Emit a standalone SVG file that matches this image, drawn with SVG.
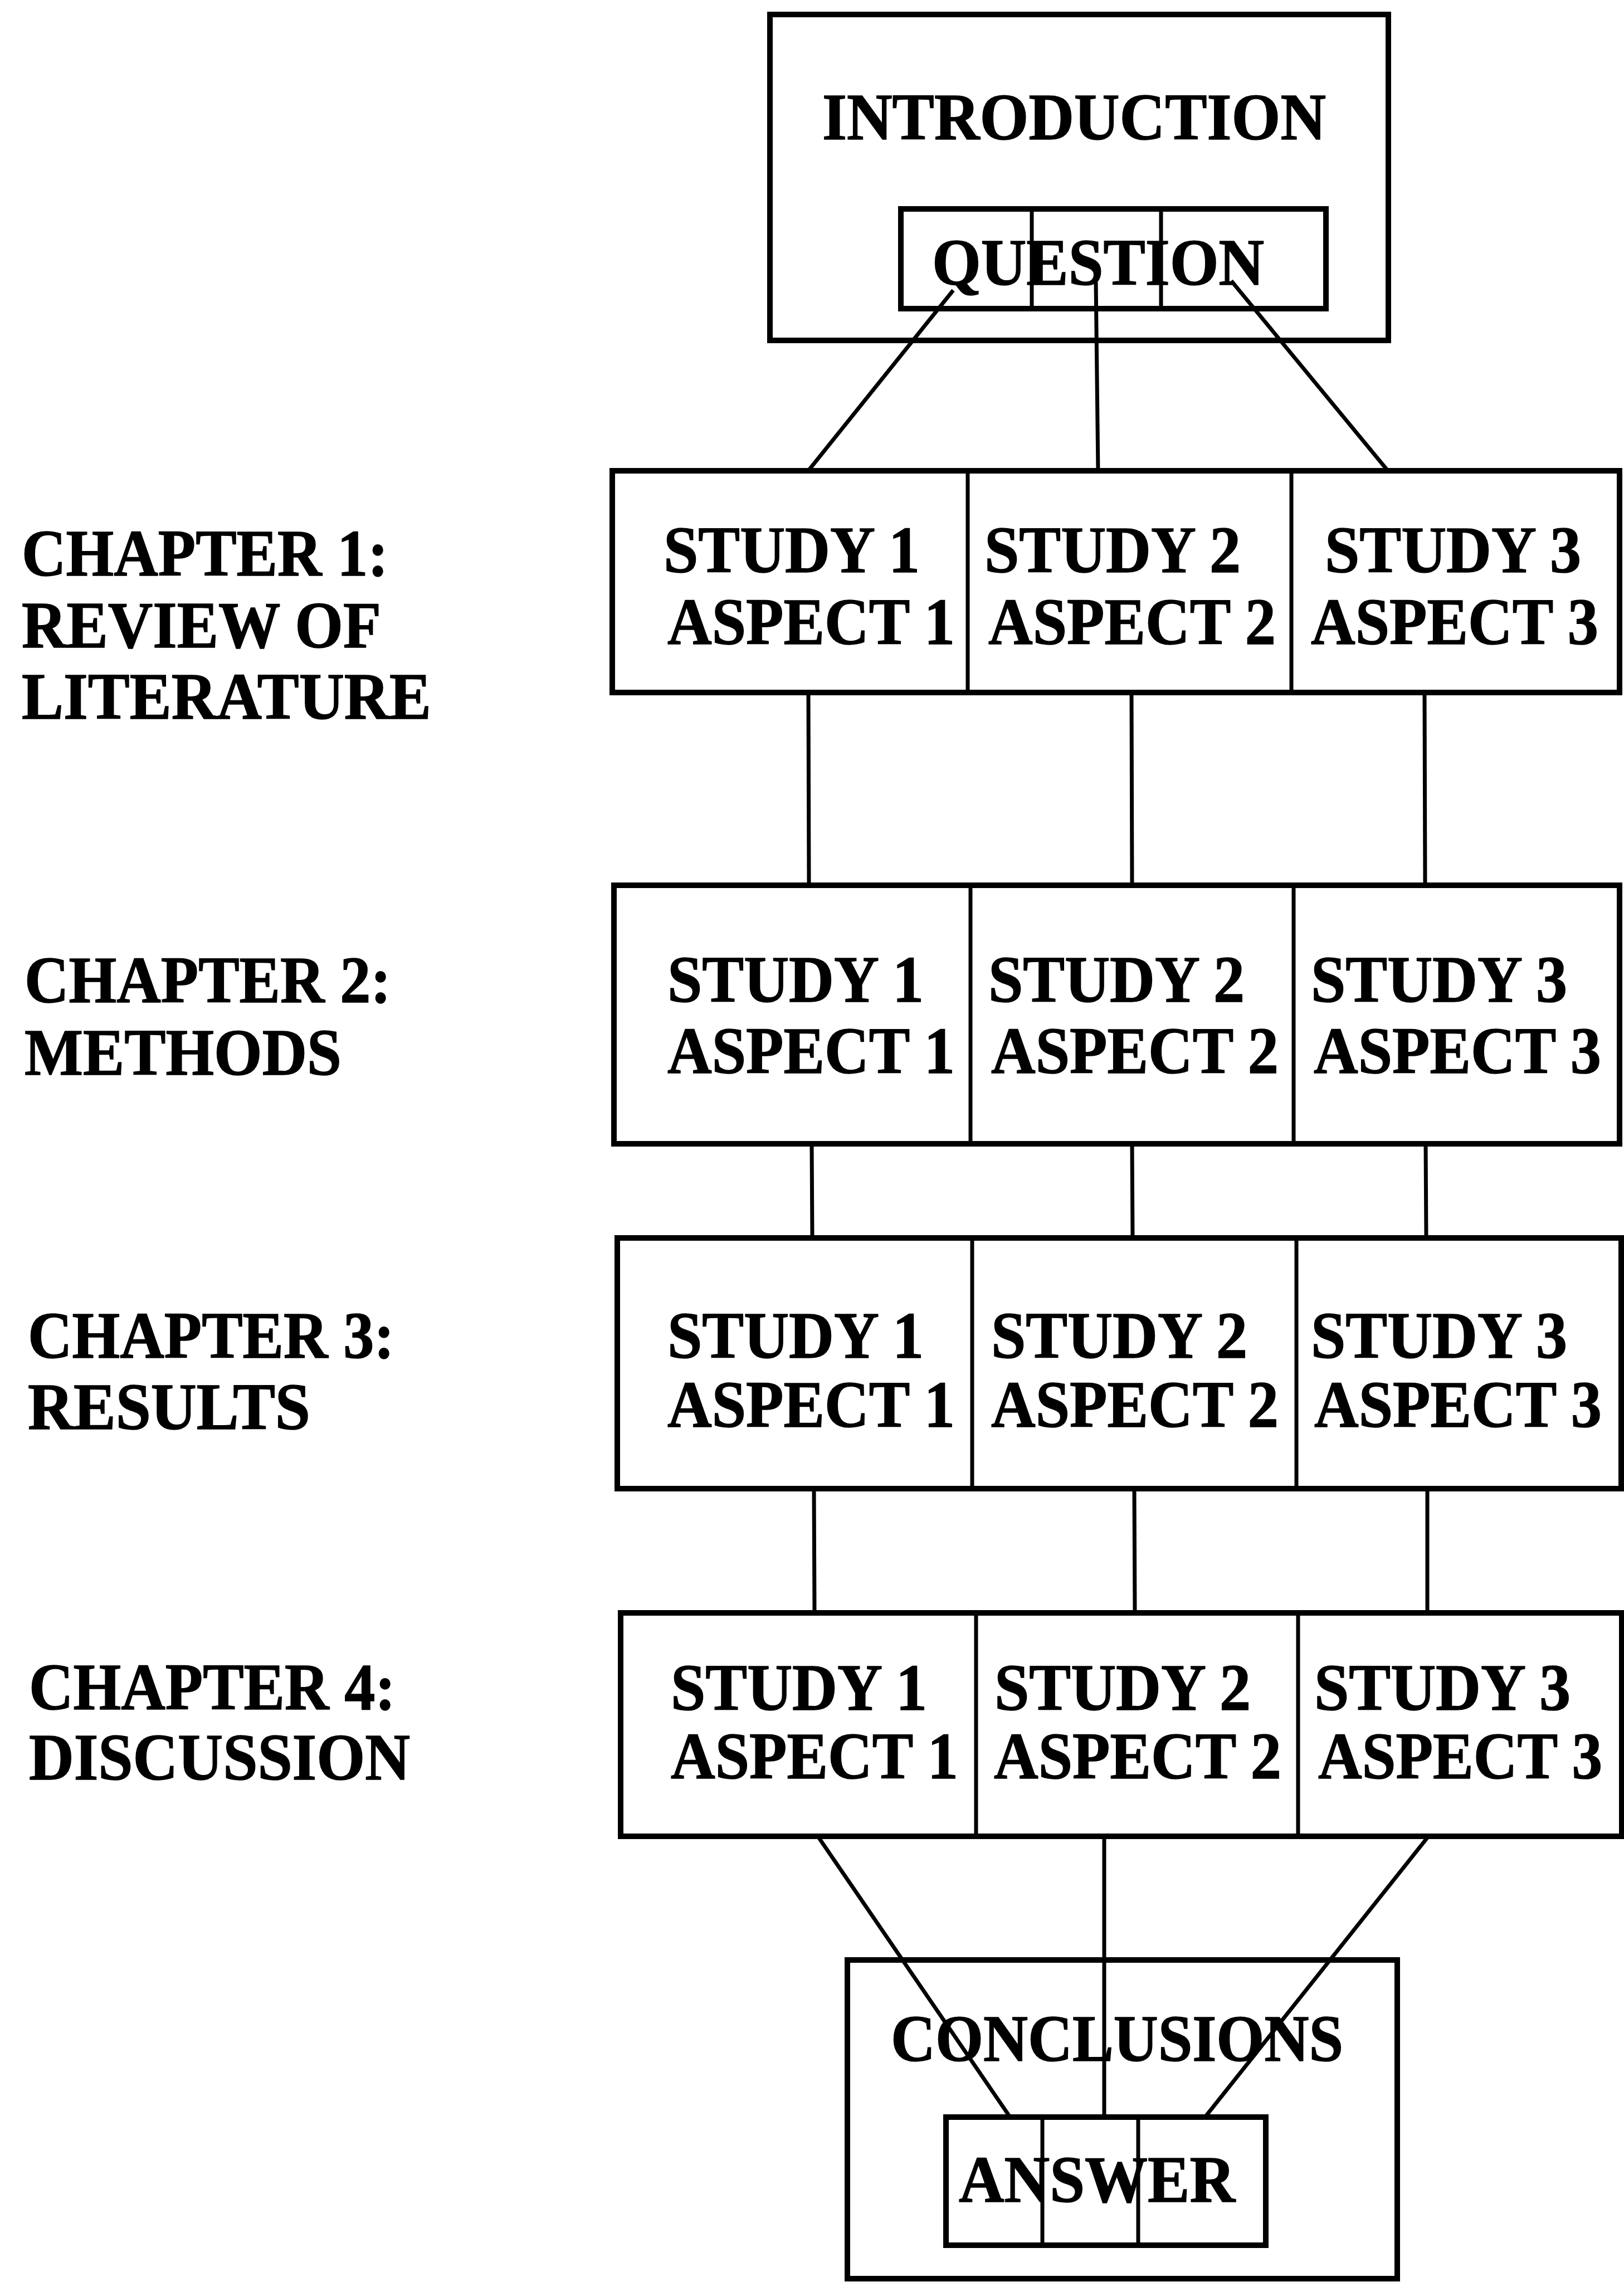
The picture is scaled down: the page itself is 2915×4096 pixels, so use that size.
<svg xmlns="http://www.w3.org/2000/svg" width="2915" height="4096" viewBox="0 0 2915 4096">
  <style>
    .box { fill: none; stroke: #000; stroke-width: 10; stroke-linejoin: miter; }
    .div { stroke: #000; stroke-width: 7; fill: none; }
    .link { stroke: #000; stroke-width: 7; fill: none; stroke-linecap: butt; }
    text { font-family: "Liberation Serif", "Times New Roman", serif; font-weight: bold; font-size: 118px; fill: #000; stroke: #000; stroke-width: 1.5; }
    .mid { text-anchor: middle; }
  </style>
  <rect width="2915" height="4096" fill="#fff"/>

  <!-- connectors -->
  <g id="connectors">
    <!-- question to review of literature -->
    <line class="link" x1="1711" y1="521" x2="1450" y2="846"/>
    <line class="link" x1="1967" y1="504" x2="1971" y2="846"/>
    <line class="link" x1="2210" y1="504" x2="2492" y2="846"/>
    <!-- review of literature to methods -->
    <line class="link" x1="1451" y1="1243" x2="1452" y2="1589"/>
    <line class="link" x1="2031" y1="1243" x2="2032" y2="1589"/>
    <line class="link" x1="2557" y1="1243" x2="2558" y2="1589"/>
    <!-- methods to results -->
    <line class="link" x1="1457" y1="2053" x2="1458" y2="2222"/>
    <line class="link" x1="2032" y1="2053" x2="2033" y2="2222"/>
    <line class="link" x1="2559" y1="2053" x2="2560" y2="2222"/>
    <!-- results to discussion -->
    <line class="link" x1="1461" y1="2672" x2="1462" y2="2895"/>
    <line class="link" x1="2036" y1="2672" x2="2037" y2="2895"/>
    <line class="link" x1="2562" y1="2672" x2="2562" y2="2895"/>
    <!-- discussion to answer -->
    <line class="link" x1="1468" y1="3296" x2="1813" y2="3800"/>
    <line class="link" x1="1982" y1="3296" x2="1982" y2="3800"/>
    <line class="link" x1="2564" y1="3296" x2="2163" y2="3800"/>
  </g>

  <!-- introduction with question -->
  <g id="introduction">
    <rect class="box" x="1382" y="26" width="1110" height="585"/>
    <text class="mid" x="1928" y="250" textLength="904" lengthAdjust="spacingAndGlyphs">INTRODUCTION</text>
  </g>
  <g id="question">
    <rect class="box" x="1617" y="375" width="763" height="179"/>
    <line class="div" x1="1852" y1="375" x2="1852" y2="554"/>
    <line class="div" x1="2084" y1="375" x2="2084" y2="554"/>
    <text class="mid" x="1971" y="511" textLength="596" lengthAdjust="spacingAndGlyphs">QUESTION</text>
  </g>

  <!-- chapter labels -->
  <g id="label-chapter1">
    <text x="39" y="1033" textLength="658" lengthAdjust="spacingAndGlyphs">CHAPTER 1:</text>
    <text x="39" y="1162" textLength="645" lengthAdjust="spacingAndGlyphs">REVIEW OF</text>
    <text x="39" y="1290" textLength="735" lengthAdjust="spacingAndGlyphs">LITERATURE</text>
  </g>
  <g id="label-chapter2">
    <text x="44" y="1799" textLength="658" lengthAdjust="spacingAndGlyphs">CHAPTER 2:</text>
    <text x="44" y="1929" textLength="569" lengthAdjust="spacingAndGlyphs">METHODS</text>
  </g>
  <g id="label-chapter3">
    <text x="50" y="2437" textLength="658" lengthAdjust="spacingAndGlyphs">CHAPTER 3:</text>
    <text x="50" y="2565" textLength="507" lengthAdjust="spacingAndGlyphs">RESULTS</text>
  </g>
  <g id="label-chapter4">
    <text x="52" y="3068" textLength="658" lengthAdjust="spacingAndGlyphs">CHAPTER 4:</text>
    <text x="52" y="3194" textLength="684" lengthAdjust="spacingAndGlyphs">DISCUSSION</text>
  </g>

  <!-- chapter 1 row -->
  <g id="row-chapter1">
    <rect class="box" x="1099" y="845" width="1808" height="398"/>
    <line class="div" x1="1737" y1="845" x2="1737" y2="1243"/>
    <line class="div" x1="2318" y1="845" x2="2318" y2="1243"/>
    <text x="1191" y="1027" textLength="460" lengthAdjust="spacingAndGlyphs">STUDY 1</text>
    <text x="1198" y="1156" textLength="516" lengthAdjust="spacingAndGlyphs">ASPECT 1</text>
    <text x="1767" y="1027" textLength="460" lengthAdjust="spacingAndGlyphs">STUDY 2</text>
    <text x="1774" y="1156" textLength="516" lengthAdjust="spacingAndGlyphs">ASPECT 2</text>
    <text x="2378" y="1027" textLength="460" lengthAdjust="spacingAndGlyphs">STUDY 3</text>
    <text x="2353" y="1156" textLength="516" lengthAdjust="spacingAndGlyphs">ASPECT 3</text>
  </g>

  <!-- chapter 2 row -->
  <g id="row-chapter2">
    <rect class="box" x="1102" y="1589" width="1805" height="464"/>
    <line class="div" x1="1742" y1="1589" x2="1742" y2="2053"/>
    <line class="div" x1="2322" y1="1589" x2="2322" y2="2053"/>
    <text x="1198" y="1798" textLength="460" lengthAdjust="spacingAndGlyphs">STUDY 1</text>
    <text x="1198" y="1926" textLength="516" lengthAdjust="spacingAndGlyphs">ASPECT 1</text>
    <text x="1774" y="1798" textLength="460" lengthAdjust="spacingAndGlyphs">STUDY 2</text>
    <text x="1779" y="1926" textLength="516" lengthAdjust="spacingAndGlyphs">ASPECT 2</text>
    <text x="2353" y="1798" textLength="460" lengthAdjust="spacingAndGlyphs">STUDY 3</text>
    <text x="2358" y="1926" textLength="516" lengthAdjust="spacingAndGlyphs">ASPECT 3</text>
  </g>

  <!-- chapter 3 row -->
  <g id="row-chapter3">
    <rect class="box" x="1108" y="2222" width="1802" height="450"/>
    <line class="div" x1="1745" y1="2222" x2="1745" y2="2672"/>
    <line class="div" x1="2327" y1="2222" x2="2327" y2="2672"/>
    <text x="1198" y="2437" textLength="460" lengthAdjust="spacingAndGlyphs">STUDY 1</text>
    <text x="1198" y="2561" textLength="516" lengthAdjust="spacingAndGlyphs">ASPECT 1</text>
    <text x="1779" y="2437" textLength="460" lengthAdjust="spacingAndGlyphs">STUDY 2</text>
    <text x="1779" y="2561" textLength="516" lengthAdjust="spacingAndGlyphs">ASPECT 2</text>
    <text x="2353" y="2437" textLength="460" lengthAdjust="spacingAndGlyphs">STUDY 3</text>
    <text x="2359" y="2561" textLength="516" lengthAdjust="spacingAndGlyphs">ASPECT 3</text>
  </g>

  <!-- chapter 4 row -->
  <g id="row-chapter4">
    <rect class="box" x="1114" y="2895" width="1797" height="401"/>
    <line class="div" x1="1752" y1="2895" x2="1752" y2="3296"/>
    <line class="div" x1="2330" y1="2895" x2="2330" y2="3296"/>
    <text x="1204" y="3069" textLength="460" lengthAdjust="spacingAndGlyphs">STUDY 1</text>
    <text x="1204" y="3192" textLength="516" lengthAdjust="spacingAndGlyphs">ASPECT 1</text>
    <text x="1785" y="3069" textLength="460" lengthAdjust="spacingAndGlyphs">STUDY 2</text>
    <text x="1784" y="3192" textLength="516" lengthAdjust="spacingAndGlyphs">ASPECT 2</text>
    <text x="2359" y="3069" textLength="460" lengthAdjust="spacingAndGlyphs">STUDY 3</text>
    <text x="2366" y="3192" textLength="510" lengthAdjust="spacingAndGlyphs">ASPECT 3</text>
  </g>

  <!-- conclusions with answer -->
  <g id="conclusions">
    <rect class="box" x="1521" y="3518" width="987" height="572"/>
    <text class="mid" x="2005" y="3699" textLength="812" lengthAdjust="spacingAndGlyphs">CONCLUSIONS</text>
  </g>
  <g id="answer">
    <rect class="box" x="1698" y="3800" width="574" height="230"/>
    <line class="div" x1="1871" y1="3800" x2="1871" y2="4030"/>
    <line class="div" x1="2043" y1="3800" x2="2043" y2="4030"/>
    <text class="mid" x="1969" y="3952" textLength="496" lengthAdjust="spacingAndGlyphs">ANSWER</text>
  </g>
</svg>
